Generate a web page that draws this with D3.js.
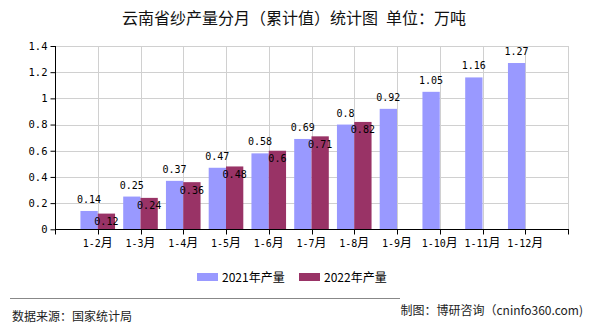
<!DOCTYPE html>
<html>
<head>
<meta charset="utf-8">
<script src="https://cdn.jsdelivr.net/npm/d3@7"></script>
<style>
  html, body { margin: 0; padding: 0; background: #fff; }
  svg { display: block; }
</style>
</head>
<body>
<svg id="chart" width="590" height="330"></svg>
<script>
const categories = ["1-2月","1-3月","1-4月","1-5月","1-6月","1-7月","1-8月","1-9月","1-10月","1-11月","1-12月"];
const values2021 = [0.14, 0.25, 0.37, 0.47, 0.58, 0.69, 0.8, 0.92, 1.05, 1.16, 1.27];
const values2022 = [0.12, 0.24, 0.36, 0.48, 0.6, 0.71, 0.82];
const yTicks = [0, 0.2, 0.4, 0.6, 0.8, 1, 1.2, 1.4];
const seriesNames = ["2021年产量", "2022年产量"];
const colors = ["#9999FF", "#993366"];

(function () {
const svg = d3.select("#chart");
const pLeft = 55, pRight = 568, pTop = 46, pBottom = 229.3;
const cjk = "'Noto Sans CJK SC', sans-serif";
const mono = "'DejaVu Sans Mono', 'Liberation Mono', monospace";

const x = d3.scalePoint().domain(categories).range([pLeft, pRight]).padding(1);
const y = d3.scaleLinear().domain([0, 1.4]).range([pBottom, pTop]);
const barW = 17.3;

// title
svg.append("text").attr("x", 294).attr("y", 24).attr("text-anchor", "middle")
  .style("font-family", cjk).style("font-size", "16px").attr("fill", "#111")
  .text("云南省纱产量分月（累计值）统计图\u2002单位：万吨");

// gridlines
const g = svg.append("g");
g.selectAll("line.hg").data(yTicks.slice(1)).enter().append("line")
  .attr("x1", pLeft).attr("x2", pRight).attr("y1", d => Math.round(y(d)) + 0.5).attr("y2", d => Math.round(y(d)) + 0.5)
  .attr("stroke", "#d0d0d0").attr("stroke-width", 1);
g.selectAll("line.vg").data(categories).enter().append("line")
  .attr("x1", d => Math.round(x(d)) + 0.5).attr("x2", d => Math.round(x(d)) + 0.5)
  .attr("y1", pTop).attr("y2", pBottom)
  .attr("stroke", "#d0d0d0").attr("stroke-width", 1);
g.append("line").attr("x1", pRight + 0.5).attr("x2", pRight + 0.5).attr("y1", pTop).attr("y2", pBottom)
  .attr("stroke", "#d0d0d0");

// bars
svg.append("g").selectAll("rect").data(values2021).enter().append("rect")
  .attr("x", (d, i) => x(categories[i]) - barW).attr("width", barW)
  .attr("y", d => y(d)).attr("height", d => pBottom - y(d)).attr("fill", colors[0]);
svg.append("g").selectAll("rect").data(values2022).enter().append("rect")
  .attr("x", (d, i) => x(categories[i])).attr("width", barW)
  .attr("y", d => y(d)).attr("height", d => pBottom - y(d)).attr("fill", colors[1]);

// value labels
svg.append("g").selectAll("text").data(values2021).enter().append("text")
  .attr("x", (d, i) => x(categories[i]) - barW / 2).attr("y", d => y(d) - 8)
  .attr("text-anchor", "middle").style("font-family", mono).style("font-size", "10px").attr("fill", "#000")
  .text(d => d);
svg.append("g").selectAll("text").data(values2022).enter().append("text")
  .attr("x", (d, i) => x(categories[i]) + barW / 2).attr("y", d => y(d) + 11.5)
  .attr("text-anchor", "middle").style("font-family", mono).style("font-size", "10px").attr("fill", "#000")
  .text(d => d);

// y axis
const yAxis = d3.axisLeft(y).tickValues(yTicks).tickSize(5).tickPadding(3).tickFormat(d => d);
const ya = svg.append("g").attr("transform", `translate(${pLeft + 0.5},0)`).call(yAxis);
ya.select(".domain").attr("stroke", "#000").attr("d", `M0,${pTop}V${pBottom}`);
ya.selectAll(".tick line").attr("stroke", "#000");
ya.selectAll(".tick text").style("font-family", mono).style("font-size", "10.5px").attr("fill", "#000");

// x axis
const xa = svg.append("g").attr("transform", `translate(0,${Math.round(pBottom) + 0.5})`);
xa.append("line").attr("x1", pLeft).attr("x2", pRight + 1).attr("stroke", "#000");
const tickXs = [pLeft].concat(categories.map(c => x(c))).concat([pRight]);
xa.selectAll("line.t").data(tickXs).enter().append("line")
  .attr("x1", d => Math.round(d) + 0.5).attr("x2", d => Math.round(d) + 0.5)
  .attr("y1", 0).attr("y2", 5).attr("stroke", "#000");
const xl = xa.selectAll("text").data(categories).enter().append("text")
  .attr("x", d => x(d)).attr("y", 17).attr("text-anchor", "middle").attr("fill", "#000");
xl.append("tspan").style("font-family", mono).style("font-size", "10px").text(d => d.replace("月", ""));
xl.append("tspan").style("font-family", cjk).style("font-size", "12px").text("月");

// legend
const legX = [197, 299];
const lg = svg.append("g");
seriesNames.forEach((name, i) => {
  lg.append("rect").attr("x", legX[i]).attr("y", 273).attr("width", 21).attr("height", 8).attr("fill", colors[i]);
  lg.append("text").attr("x", legX[i] + 25).attr("y", 281.5)
    .style("font-family", cjk).style("font-size", "12px").attr("fill", "#000").text(name);
});

// footer
svg.append("line").attr("x1", 10).attr("x2", 400).attr("y1", 298.5).attr("y2", 298.5).attr("stroke", "#888");
svg.append("text").attr("x", 12).attr("y", 321).style("font-family", cjk).style("font-size", "12px")
  .attr("fill", "#222").text("数据来源：国家统计局");
svg.append("text").attr("x", 583).attr("y", 315).attr("text-anchor", "end").style("font-family", cjk).style("font-size", "12px")
  .attr("fill", "#222").text("制图：博研咨询（cninfo360.com)");
})();
</script>
</body>
</html>
